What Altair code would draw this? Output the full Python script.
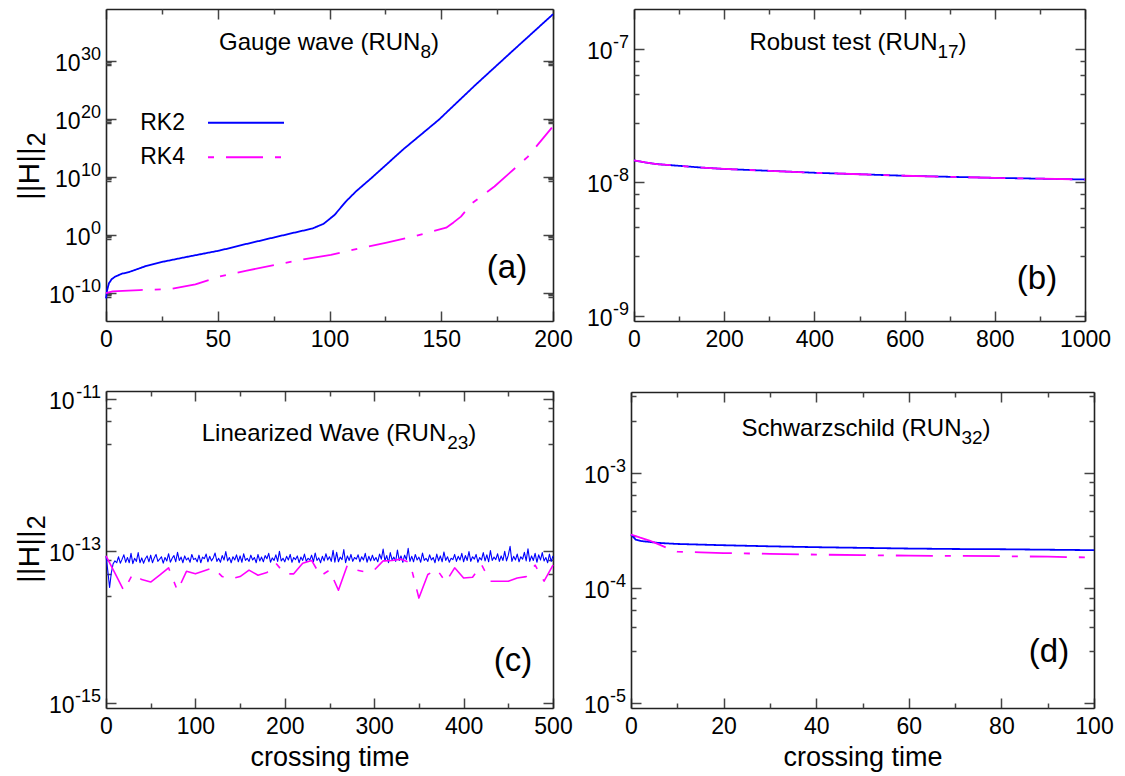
import altair as alt
import pandas as pd

FONT = "Liberation Sans, Arial, DejaVu Sans, sans-serif"
W, H = 1125, 776

RUNS = ["RK2", "RK4"]
COLORS = ["#0000ff", "#ff00ff"]
DASHES = [[1, 0], [37, 12, 6, 12]]

# ---------------- data ----------------
# (a) Gauge wave
a_rk2_t = [0, 0.5, 1.3, 2.5, 4.1, 7, 10.7, 18, 25.8, 38, 50.7, 63, 75.7, 85, 92.3, 97.3,
           102.3, 107.3, 112, 118.9, 133, 148.9, 165, 182, 200]
a_rk2_h = [1.26e-11, 3.2e-10, 5.0e-9, 2.5e-8, 7.1e-8, 2.2e-7, 5.0e-7, 5.0e-6, 2.8e-5, 2.5e-4,
           2.2e-3, 3.2e-2, 0.46, 3.2, 14, 89, 3.2e3, 6.3e5, 4.0e7, 7.9e9, 6.3e14, 7.9e19,
           6.3e25, 6.3e31, 1.26e38]
a_rk4_t = [0, 3, 7.5, 15, 28.2, 40, 50.7, 63, 75.7, 88, 100.6, 113, 125.6, 139, 152.2, 155.5,
           158.8, 163.8, 173.8, 188.8, 199.5]
a_rk4_h = [1.0e-10, 2.0e-10, 2.5e-10, 3.5e-10, 4.9e-10, 3.2e-9, 7.2e-8, 7.9e-7, 7.6e-6, 6.3e-5,
           4.0e-4, 5.0e-3, 5.2e-2, 0.79, 20, 160, 1.6e3, 3.2e5, 2.5e8, 3.5e13, 3.5e18]

# (b) Robust test
b_t = [0, 25, 50, 100, 150, 200, 300, 400, 500, 600, 700, 800, 900, 1000]
b_rk2_h = [1.46e-8, 1.41e-8, 1.37e-8, 1.33e-8, 1.29e-8, 1.26e-8, 1.22e-8, 1.18e-8, 1.15e-8,
           1.12e-8, 1.10e-8, 1.08e-8, 1.065e-8, 1.05e-8]
b_rk4_h = [1.46e-8, 1.41e-8, 1.37e-8, 1.33e-8, 1.29e-8, 1.26e-8, 1.22e-8, 1.18e-8, 1.15e-8,
           1.12e-8, 1.10e-8, 1.08e-8, 1.065e-8, 1.05e-8]

# (c) Linearized wave  (values in units of 1e-14)
c_rk2_t = list(range(0, 501, 2))
c_rk2_v = [
    8.6, 5.5, 3.3, 5.2, 6.8, 7.4, 7.0, 8.4, 6.9, 7.8, 8.9, 7.1, 8.2, 7.0, 9.3, 6.8, 8.0, 7.3, 9.5, 7.0, 8.1, 6.9, 7.9, 8.6, 7.2,
    8.8, 7.0, 8.1, 9.0, 7.3, 7.8, 8.4, 6.9, 8.2, 7.4, 9.2, 7.1, 8.0, 8.7, 7.2, 9.6, 7.5, 8.3, 7.0, 8.6, 7.6, 8.1, 7.1, 9.0, 7.7,
    8.0, 7.2, 8.8, 7.0, 8.3, 7.9, 9.1, 7.2, 8.5, 7.4, 8.1, 9.4, 7.3, 8.0, 7.1, 8.7, 7.6, 9.8, 7.4, 8.2, 7.0, 8.4, 7.6, 8.9, 7.2,
    8.6, 7.1, 9.2, 7.5, 8.0, 7.3, 8.8, 7.6, 8.2, 7.0, 9.0, 7.4, 8.3, 7.2, 8.7, 7.9, 9.3, 7.1, 8.1, 7.5, 8.9, 7.3, 9.9, 7.4, 8.0,
    7.2, 8.5, 7.6, 9.0, 7.1, 8.2, 7.7, 8.6, 7.0, 8.3, 7.5, 9.1, 7.3, 8.0, 7.6, 8.8, 7.2, 9.4, 7.5, 8.1, 7.0, 8.5, 7.4, 9.2, 7.6,
    8.4, 7.3, 10.2, 7.1, 9.6, 7.2, 8.3, 7.7, 10.4, 7.0, 8.6, 7.5, 9.0, 7.3, 8.2, 7.8, 8.9, 7.2, 8.4, 7.6, 9.3, 7.1, 8.5, 7.4, 8.8,
    7.5, 8.2, 7.2, 9.1, 7.8, 10.6, 7.4, 8.7, 7.0, 9.5, 7.6, 8.3, 7.3, 10.3, 7.5, 8.6, 7.1, 8.8, 7.7, 10.8, 7.3, 8.5, 7.2, 9.0, 7.6,
    8.3, 7.1, 9.4, 7.5, 8.0, 7.3, 8.9, 7.6, 8.2, 7.0, 9.1, 7.4, 8.6, 7.2, 9.7, 7.5, 8.4, 7.1, 8.0, 7.7, 9.0, 7.3, 8.5, 7.6, 9.3,
    7.2, 8.7, 7.5, 9.8, 7.3, 8.4, 7.8, 9.0, 7.1, 8.2, 7.6, 9.5, 7.4, 8.9, 7.2, 10.1, 7.5, 8.3, 7.7, 9.2, 7.3, 8.6, 7.5, 9.9, 7.4,
    8.8, 11.5, 7.3, 8.5, 7.6, 9.1, 7.2, 8.4, 7.8, 9.6, 7.4, 10.7, 7.3, 8.6, 7.5, 9.3, 7.1, 8.9, 7.6, 9.5, 7.4, 8.2, 7.0, 9.1, 7.3,
    8.6,
]
c_rk4_t = list(range(0, 501, 10))
c_rk4_v = [8.6, 5.1, 3.0, 5.0, 4.2, 3.9, 4.8, 6.0, 3.0, 5.4, 5.0, 5.5, 6.0, 4.6, 4.3, 4.6, 5.6,
           4.8, 5.2, 6.9, 5.0, 5.0, 6.9, 7.5, 4.7, 5.6, 3.05, 6.5, 5.6, 5.3, 5.6, 7.4, 7.5, 7.8,
           7.0, 2.4, 4.9, 5.75, 3.9, 6.0, 4.4, 4.5, 6.6, 4.0, 4.0, 4.0, 4.4, 4.6, 6.5, 4.0, 6.5]
C_UNIT = 1e-14

# (d) Schwarzschild
d_rk2_t = [0, 0.5, 1, 2, 4, 6, 10, 15, 20, 30, 40, 50, 60, 70, 80, 90, 100]
d_rk2_h = [2.9e-4, 2.75e-4, 2.62e-4, 2.55e-4, 2.5e-4, 2.45e-4, 2.4e-4, 2.37e-4, 2.34e-4,
           2.29e-4, 2.25e-4, 2.22e-4, 2.19e-4, 2.17e-4, 2.16e-4, 2.14e-4, 2.12e-4]
d_rk4_t = [0, 2, 4, 6, 8, 10, 15, 20, 30, 40, 50, 60, 70, 80, 90, 100]
d_rk4_h = [2.9e-4, 2.72e-4, 2.57e-4, 2.38e-4, 2.2e-4, 2.06e-4, 2.03e-4, 2.0e-4, 1.97e-4,
           1.94e-4, 1.92e-4, 1.9e-4, 1.89e-4, 1.88e-4, 1.86e-4, 1.83e-4]

# tick values and labels
a_xmaj = [0, 50, 100, 150, 200]
a_xmin = [25, 75, 125, 175]
a_ymaj = [1e-10, 1, 1e10, 1e20, 1e30]
a_yexp = ["-10", "0", "10", "20", "30"]
a_ymin = [m * 10.0 ** k for k in (-10, 0, 10, 20, 30) for m in (0.2, 0.4, 0.6, 0.8)]

b_xmaj = [0, 200, 400, 600, 800, 1000]
b_xmin = [100, 300, 500, 700, 900]
b_ymaj = [1e-9, 1e-8, 1e-7]
b_yexp = ["-9", "-8", "-7"]
b_ymin = [m * 10.0 ** k for k in (-10, -9, -8, -7) for m in (2.8, 4.6, 6.4, 8.2)]

c_xmaj = [0, 100, 200, 300, 400, 500]
c_xmin = [50, 150, 250, 350, 450]
c_ymaj = [1e-15, 1e-13, 1e-11]
c_yexp = ["-15", "-13", "-11"]
c_ymin = [m * 10.0 ** k for k in (-17, -15, -13, -11) for m in (25.75, 50.5, 75.25)]

d_xmaj = [0, 20, 40, 60, 80, 100]
d_xmin = [10, 30, 50, 70, 90]
d_ymaj = [1e-5, 1e-4, 1e-3]
d_yexp = ["-5", "-4", "-3"]
d_ymin = [m * 10.0 ** k for k in (-6, -5, -4, -3) for m in (2.8, 4.6, 6.4, 8.2)]

title_main = ["Gauge wave (RUN", "Robust test (RUN", "Linearized Wave (RUN", "Schwarzschild (RUN"]
title_sub = ["8", "17", "23", "32"]
letters = ["(a)", "(b)", "(c)", "(d)"]
y_title_main, y_title_sub = "||H||", "2"
x_title = "crossing time"
base_label = "10"

# ---------------- layout ----------------
BOX = {
    "a": (106, 553, 9, 321),
    "b": (634, 1085, 9, 321),
    "c": (106, 553, 391, 708),
    "d": (631, 1094, 392, 708),
}
YDOM = {
    "a": [1.6e-15, 1e39],
    "b": [9.1e-10, 2e-7],
    "c": [8.6e-16, 1.27e-11],
    "d": [9.05e-6, 5e-3],
}
XDOM = {"a": [0, 200], "b": [0, 1000], "c": [0, 500], "d": [0, 100]}

TICK_COLOR = "#444444"
FRAME_COLOR = "#222222"
LAB_SIZE, EXP_SIZE = 23, 18

# Arial / Liberation Sans advance widths (1/1000 em) for text layout
ADV = {" ": 278, "(": 333, ")": 333, "-": 333, "|": 260,
       "G": 778, "R": 722, "U": 722, "N": 722, "L": 556, "W": 944, "S": 667, "H": 722,
       "a": 556, "b": 556, "c": 500, "d": 556, "e": 556, "g": 556, "h": 556, "i": 222,
       "l": 222, "n": 556, "o": 556, "r": 333, "s": 500, "t": 278, "u": 556, "v": 500,
       "w": 722, "z": 500, "m": 833}


def tw(s, size):
    return sum(ADV.get(ch, 556) for ch in s) * size / 1000.0


def make_df(t1, h1, t2, h2):
    rows = [{"t": t, "h": h, "run": "RK2"} for t, h in zip(t1, h1)]
    rows += [{"t": t, "h": h, "run": "RK4"} for t, h in zip(t2, h2)]
    return pd.DataFrame(rows)


def txt(s, x, y, size, align="left", baseline="alphabetic", angle=0):
    return alt.Chart(pd.DataFrame({"label": [s]})).mark_text(
        font=FONT, fontSize=size, align=align, baseline=baseline, color="black", angle=angle
    ).encode(x=alt.value(x), y=alt.value(y), text="label:N")


def panel(key, df, xmaj, xmin, ymaj, yexp, ymin, widths, with_xtitle=False):
    x0, x1, y0, y1 = BOX[key]
    lo, hi = YDOM[key]
    ymin = [v for v in ymin if lo < v < hi]
    xs = alt.Scale(domain=XDOM[key], range=[x0, x1], nice=False, zero=False)
    ys = alt.Scale(type="log", domain=YDOM[key], range=[y1, y0], nice=False)

    xlab_kw = dict(orient="bottom", offset=y1 - H, values=xmaj, ticks=False, tickSize=0,
                   domain=False, grid=False, labelFont=FONT, labelFontSize=LAB_SIZE, format="d",
                   labelColor="black", labelPadding=7, labelFlush=False, labelOverlap=False)
    if with_xtitle:
        xlab_kw.update(title=x_title, titleFont=FONT, titleFontSize=27, titleFontWeight="normal",
                       titleColor="black", titleX=(x0 + x1) / 2, titleY=57,
                       titleBaseline="alphabetic", titleAlign="center")
    else:
        xlab_kw.update(title=None)

    def tick_axis(orient, offset, values, size, domain):
        return alt.Axis(orient=orient, offset=offset, values=values, tickSize=size, labels=False,
                        title=None, grid=False, domain=domain, tickColor=TICK_COLOR, tickWidth=1.5,
                        domainColor=FRAME_COLOR, domainWidth=1.6)

    layers = [
        alt.Chart(df).mark_line(strokeJoin="round").encode(
            x=alt.X("t:Q", scale=xs, axis=alt.Axis(**xlab_kw)),
            y=alt.Y("h:Q", scale=ys, axis=tick_axis("right", x0 - W, ymaj, 10, True)),
            color=alt.Color("run:N", scale=alt.Scale(domain=RUNS, range=COLORS), legend=None),
            strokeDash=alt.StrokeDash("run:N", scale=alt.Scale(domain=RUNS, range=DASHES), legend=None),
            strokeWidth=alt.StrokeWidth("run:N", scale=alt.Scale(domain=RUNS, range=widths), legend=None),
        )
    ]
    specs = [
        (tick_axis("top", -y1, xmaj, 10, True), tick_axis("left", -x1, ymaj, 10, True)),
        (tick_axis("bottom", y0 - H, xmaj, 10, True), tick_axis("right", x0 - W, ymin, 5, False)),
        (tick_axis("top", -y1, xmin, 5, False), tick_axis("left", -x1, ymin, 5, False)),
        (tick_axis("bottom", y0 - H, xmin, 5, False), None),
    ]
    for xa, ya in specs:
        layers.append(
            alt.Chart(df).mark_point(opacity=0).encode(
                x=alt.X("t:Q", scale=xs, axis=xa),
                y=alt.Y("h:Q", scale=ys, axis=ya),
            )
        )

    # y tick labels: "10" with a raised exponent, right-aligned next to the axis
    for v, e in zip(ymaj, yexp):
        lab_df = pd.DataFrame({"v": [v], "base": [base_label], "exp": [e]})
        x_exp = x0 - 5
        x_base = x_exp - tw(e, EXP_SIZE) - 0.5
        layers.append(
            alt.Chart(lab_df).mark_text(font=FONT, fontSize=EXP_SIZE, align="right",
                                        baseline="alphabetic", dy=-1, color="black").encode(
                x=alt.value(x_exp), y=alt.Y("v:Q", scale=ys, axis=None), text="exp:N")
        )
        layers.append(
            alt.Chart(lab_df).mark_text(font=FONT, fontSize=LAB_SIZE, align="right",
                                        baseline="alphabetic", dy=10, color="black").encode(
                x=alt.value(x_base), y=alt.Y("v:Q", scale=ys, axis=None), text="base:N")
        )
    return layers


def title_layers(i, cx, base_y, size=24, sub_size=19, sub_drop=8):
    m, s = title_main[i], title_sub[i]
    total = tw(m, size) + tw(s, sub_size) + tw(")", size)
    xl = cx - total / 2
    return [
        txt(m, xl, base_y, size),
        txt(s, xl + tw(m, size), base_y + sub_drop, sub_size),
        txt(")", xl + tw(m, size) + tw(s, sub_size), base_y, size),
    ]


def ytitle_layers(bottom_y, base_x=39, size=30, sub_size=25):
    w = tw(y_title_main, size)
    return [
        txt(y_title_main, base_x, bottom_y, size, angle=270),
        txt(y_title_sub, base_x + 6, bottom_y - w - 1, sub_size, angle=270),
    ]


df_a = make_df(a_rk2_t, a_rk2_h, a_rk4_t, a_rk4_h)
df_b = make_df(b_t, b_rk2_h, b_t, b_rk4_h)
df_c = make_df(c_rk2_t, [v * C_UNIT for v in c_rk2_v], c_rk4_t, [v * C_UNIT for v in c_rk4_v])
df_d = make_df(d_rk2_t, d_rk2_h, d_rk4_t, d_rk4_h)

layers = []
layers += panel("a", df_a, a_xmaj, a_xmin, a_ymaj, a_yexp, a_ymin, [1.8, 1.8])
layers += panel("b", df_b, b_xmaj, b_xmin, b_ymaj, b_yexp, b_ymin, [1.8, 1.8])
layers += panel("c", df_c, c_xmaj, c_xmin, c_ymaj, c_yexp, c_ymin, [1.1, 1.6], with_xtitle=True)
layers += panel("d", df_d, d_xmaj, d_xmin, d_ymaj, d_yexp, d_ymin, [1.8, 1.8], with_xtitle=True)

# legend of panel (a): label, then a line sample in the series style
leg_df = pd.DataFrame({"run": RUNS})
leg_y = alt.Scale(type="point", domain=RUNS, range=[122.7, 157.3], padding=0)
layers.append(
    alt.Chart(leg_df).mark_rule(strokeWidth=2, strokeDashOffset=49).encode(
        x=alt.value(208), x2=alt.value(284),
        y=alt.Y("run:N", scale=leg_y, axis=None),
        color=alt.Color("run:N", scale=alt.Scale(domain=RUNS, range=COLORS), legend=None),
        strokeDash=alt.StrokeDash("run:N", scale=alt.Scale(domain=RUNS, range=DASHES), legend=None),
    )
)
layers.append(
    alt.Chart(leg_df).mark_text(font=FONT, fontSize=23, align="right", baseline="middle",
                                color="black").encode(
        x=alt.value(185), y=alt.Y("run:N", scale=leg_y, axis=None), text="run:N")
)

layers += title_layers(0, 329, 50)
layers += title_layers(1, 858, 50)
layers += title_layers(2, 339, 441)
layers += title_layers(3, 866, 436)
layers += ytitle_layers(200)
layers += ytitle_layers(583)
layers += [
    txt(letters[0], 507, 268, 33, align="center", baseline="middle"),
    txt(letters[1], 1037, 279, 33, align="center", baseline="middle"),
    txt(letters[2], 513, 661, 33, align="center", baseline="middle"),
    txt(letters[3], 1049, 652, 33, align="center", baseline="middle"),
]

chart = (
    alt.layer(*layers)
    .resolve_scale(x="independent", y="independent", color="independent",
                   strokeDash="independent", strokeWidth="independent")
    .resolve_axis(x="independent", y="independent")
    .properties(width=W, height=H, padding=0, background="white",
                autosize=alt.AutoSizeParams(type="none"))
    .configure_view(stroke="transparent")
)

chart.save("out.html", embed_options={"renderer": "svg", "actions": False})
